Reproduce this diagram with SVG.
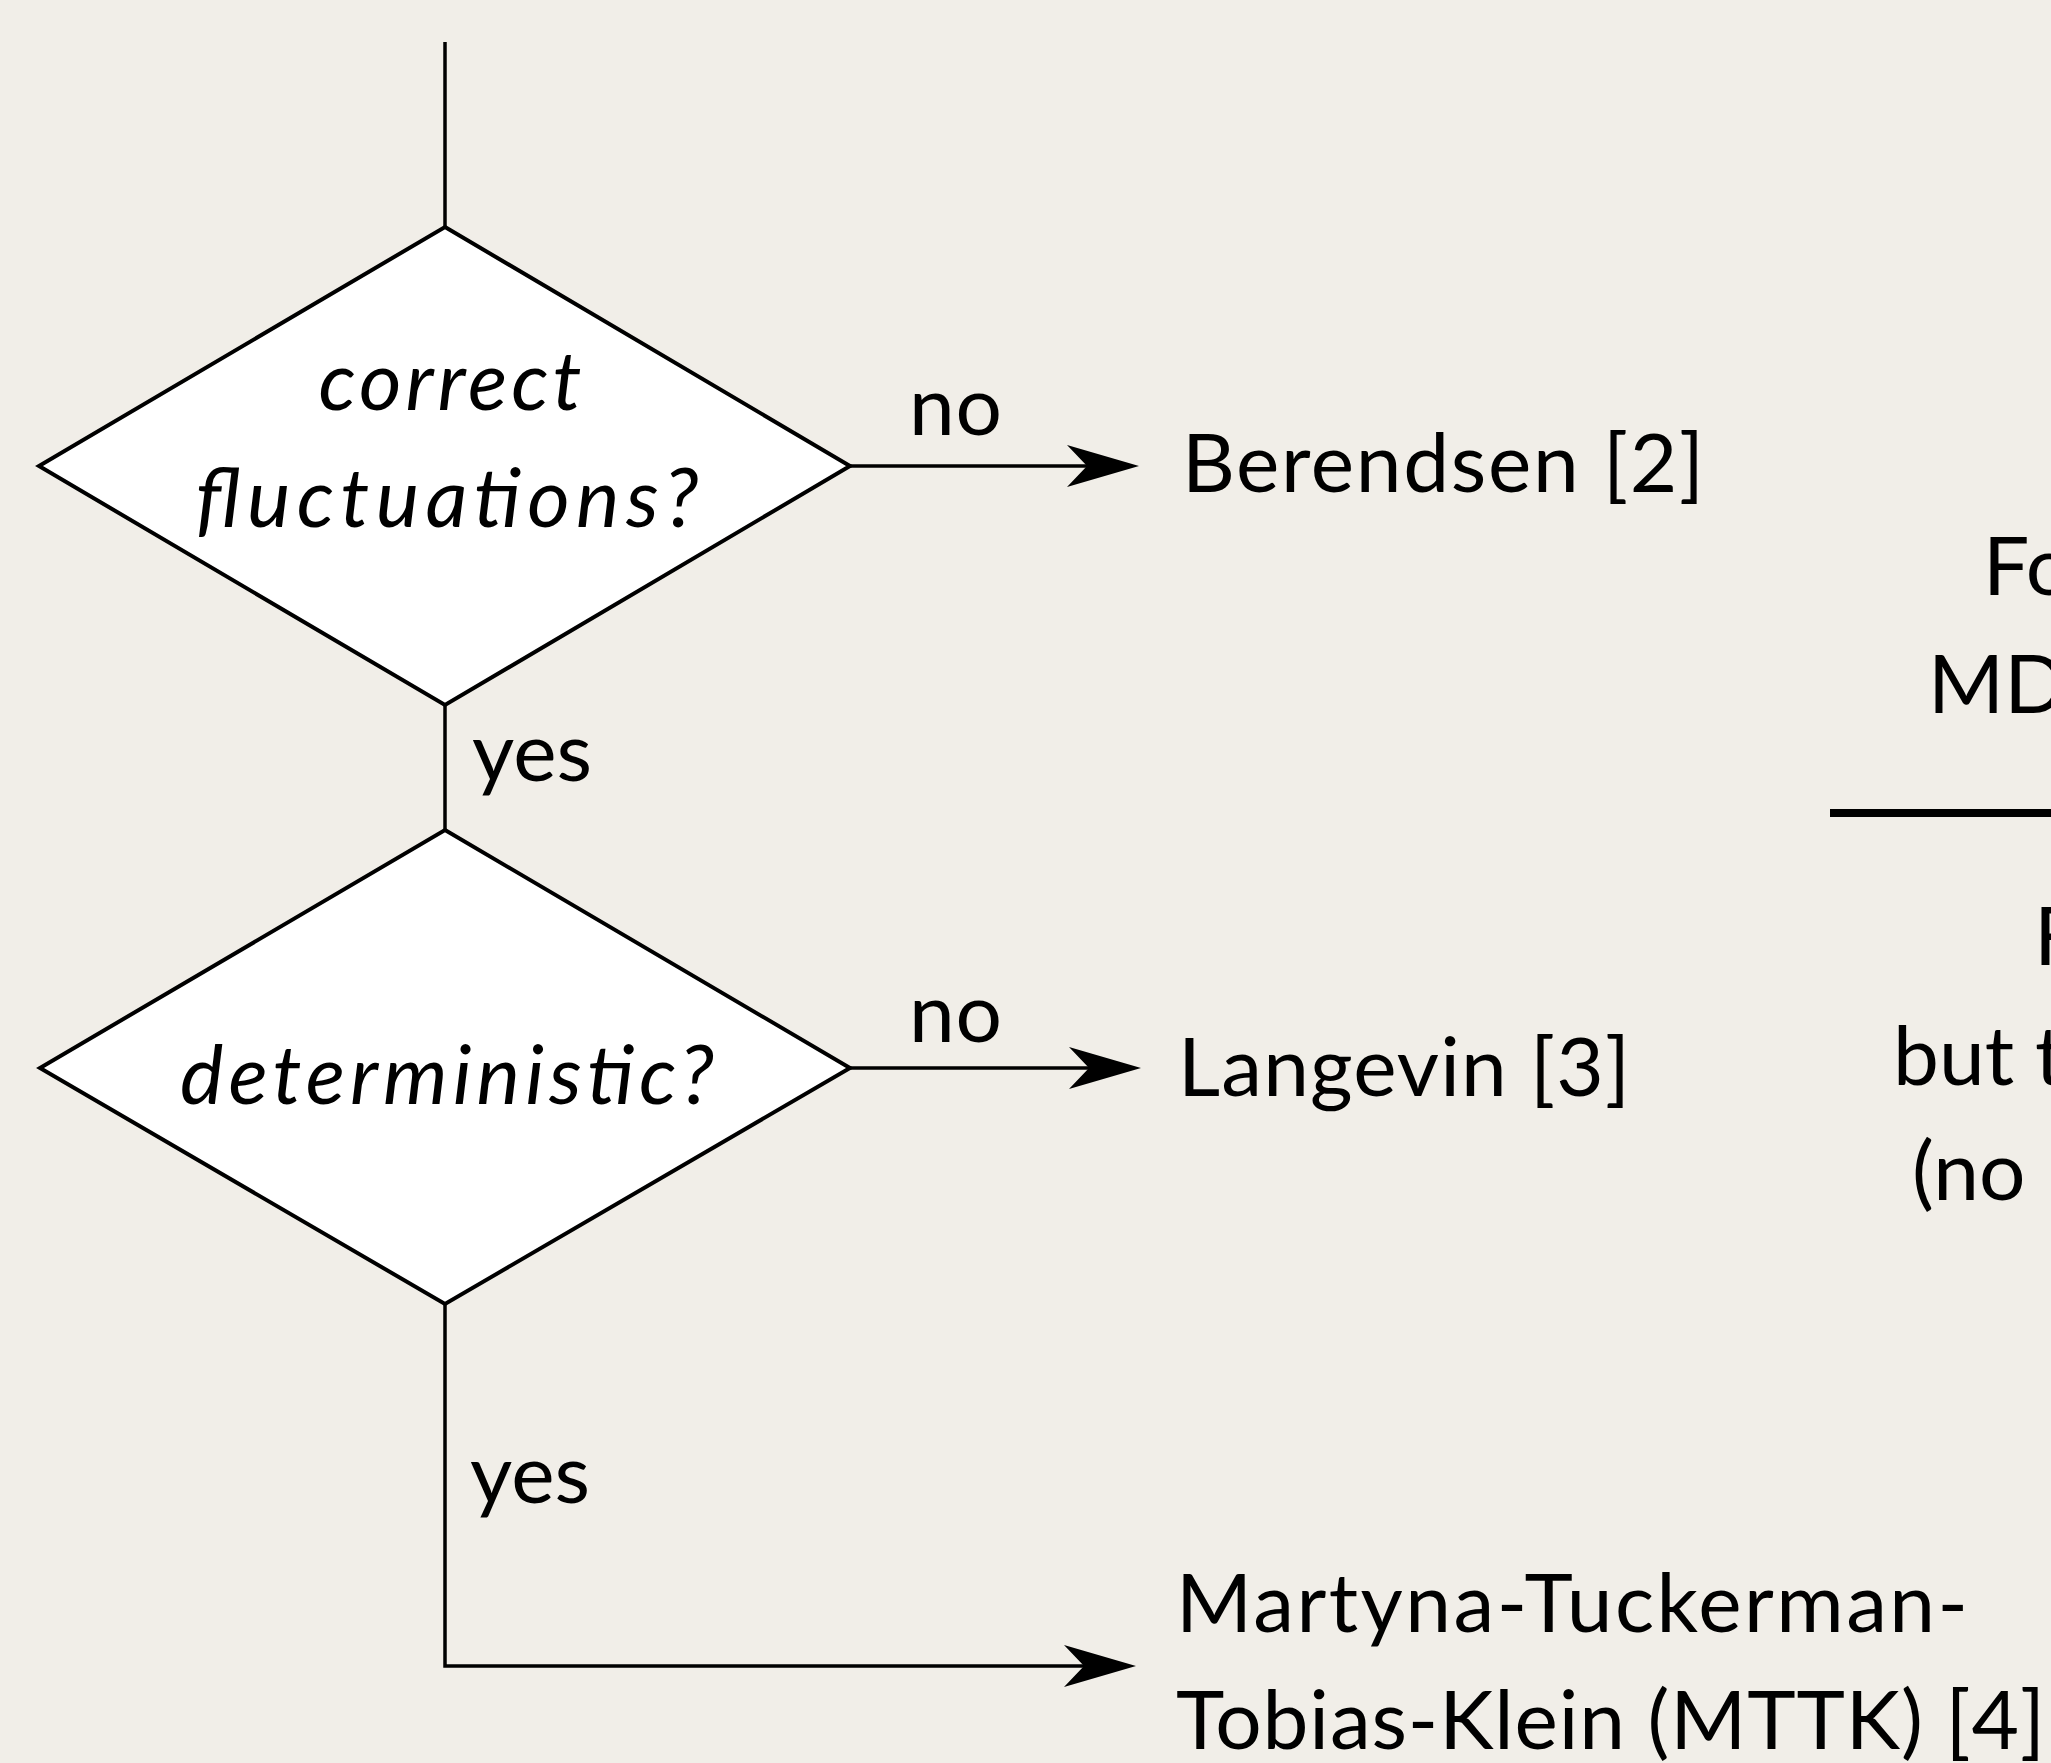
<svg xmlns="http://www.w3.org/2000/svg" width="2051" height="1763" viewBox="0 0 2051 1763">
<style>
.bg{fill:#f1eee8}
.dia{fill:#ffffff;stroke:#000;stroke-width:4;stroke-linejoin:miter}
.ln{fill:none;stroke:#000;stroke-width:3.5}
.t{font-family:Lato,"Open Sans","Liberation Sans",sans-serif;font-size:82px;fill:#000}
.it{font-style:italic}
.mid{text-anchor:middle}
</style>
<defs>
<marker id="arr" viewBox="0 -21 72 42" refX="20" refY="0" markerWidth="72" markerHeight="42" markerUnits="userSpaceOnUse" orient="auto">
<path d="M0,-21 L72,0 L0,21 L20,0 Z" fill="#000"/>
</marker>
</defs>
<rect class="bg" x="0" y="0" width="2051" height="1763"/>
<g id="connectors">
<line class="ln" x1="445" y1="42" x2="445" y2="227"/>
<line class="ln" x1="850" y1="466" x2="1087" y2="466" marker-end="url(#arr)"/>
<line class="ln" x1="445" y1="705" x2="445" y2="830"/>
<line class="ln" x1="850" y1="1068" x2="1089" y2="1068" marker-end="url(#arr)"/>
<polyline class="ln" points="445,1304 445,1666 1084,1666" marker-end="url(#arr)"/>
<text class="t" x="909" y="435" textLength="93">no</text>
<text class="t" x="472" y="781" textLength="120">yes</text>
<text class="t" x="909" y="1042" textLength="93">no</text>
<text class="t" x="470" y="1503" textLength="120">yes</text>
</g>
<g id="q1">
<polygon class="dia" points="445,227 850,466 445,705 39,466"/>
<text class="t it mid" x="450" y="410" textLength="263">correct</text>
<text class="t it mid" x="447" y="527" textLength="503">fluctuations?</text>
</g>
<g id="q2">
<polygon class="dia" points="445,830 850,1068 445,1304 40,1068"/>
<text class="t it mid" x="447" y="1104" textLength="534">deterministic?</text>
</g>
<g id="berendsen">
<text class="t" x="1182" y="492" textLength="522">Berendsen [2]</text>
</g>
<g id="langevin">
<text class="t" x="1178" y="1096" textLength="452">Langevin [3]</text>
</g>
<g id="mttk">
<text class="t" x="1176" y="1632" textLength="792">Martyna-Tuckerman-</text>
<text class="t" x="1176" y="1749" textLength="869">Tobias-Klein (MTTK) [4]</text>
</g>
<g id="side">
<text class="t" x="1983" y="595">Fo</text>
<text class="t" x="1928" y="713">MD</text>
<line x1="1830" y1="813" x2="2051" y2="813" stroke="#000" stroke-width="8"/>
<text class="t" x="2034" y="965">F</text>
<text class="t" x="1893" y="1085">but t</text>
<text class="t" x="1912" y="1200">(no</text>
</g>
</svg>
